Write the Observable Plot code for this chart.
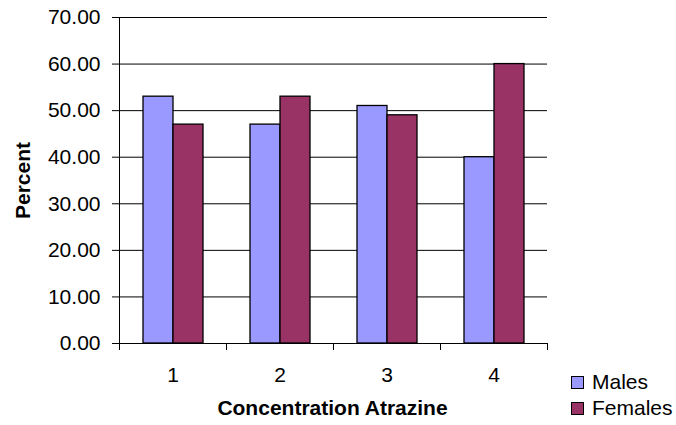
<!DOCTYPE html>
<html>
<head>
<meta charset="utf-8">
<script src="https://cdn.jsdelivr.net/npm/d3@7"></script>
<script src="https://cdn.jsdelivr.net/npm/@observablehq/plot@0.6"></script>
<style>
  body { margin: 0; background: #fff; }
  #wrap { position: relative; width: 676px; height: 425px; font-family: "Liberation Sans", Arial, sans-serif; }
  #wrap svg [aria-label="y-axis label"] text { font-weight: bold; font-size: 21px; }
  .xtitle { position: absolute; left: 117px; width: 431px; top: 396px; text-align: center; font-weight: bold; font-size: 21px; line-height: 24px; }
  .legend { position: absolute; left: 571px; top: 369px; font-size: 21px; }
  .legend .row { display: flex; align-items: center; height: 26px; }
  .legend .sw { width: 11px; height: 11px; border: 1px solid #000; margin-right: 8px; }
</style>
</head>
<body>
<div id="wrap"></div>
<script>
const categories = ["1", "2", "3", "4"];
const series = ["Males", "Females"];
const males = [53, 47, 51, 40];
const females = [47, 53, 49, 60];
const colors = ["#9999ff", "#993366"];
const yTicks = [0, 10, 20, 30, 40, 50, 60, 70];
const xTitle = "Concentration Atrazine";
const yTitle = "Percent";

const data = categories.flatMap((c, i) => [
  {cat: c, sex: series[0], value: males[i]},
  {cat: c, sex: series[1], value: females[i]}
]);

const chart = Plot.plot({
  width: 676,
  height: 425,
  marginLeft: 117,
  marginRight: 128,
  marginTop: 17,
  marginBottom: 82,
  style: {fontFamily: '"Liberation Sans", Arial, sans-serif', fontSize: "21px", color: "#000", background: "white", overflow: "visible"},
  fx: {domain: categories, padding: 0, label: null},
  x: {domain: series, paddingInner: 0, paddingOuter: 0.74, axis: null},
  y: {domain: [0, 70]},
  color: {domain: series, range: colors},
  marks: [
    Plot.gridY(yTicks.slice(1), {stroke: "#000", strokeOpacity: 1}),
    Plot.barY(data, {fx: "cat", x: "sex", y: "value", fill: "sex", stroke: "#000", strokeWidth: 1.3}),
    Plot.frame({anchor: "bottom", stroke: "#000"}),
    Plot.frame({anchor: "left", stroke: "#000", insetTop: 326, insetBottom: -6}),
    Plot.frame({anchor: "right", stroke: "#000", insetTop: 326, insetBottom: -6}),
    Plot.frame({anchor: "left", stroke: "#000", fx: [categories[0]]}),
    Plot.axisY(yTicks, {anchor: "left", tickSize: 7, tickPadding: 12, tickFormat: d3.format(".2f"),
      label: yTitle, labelAnchor: "center", labelOffset: 104, labelArrow: "none", fontSize: 21}),
    Plot.axisFx({anchor: "bottom", tickSize: 0, tickPadding: 24, label: null, fontSize: 21})
  ]
});

const wrap = document.getElementById("wrap");
wrap.appendChild(chart);

const t = document.createElement("div");
t.className = "xtitle";
t.textContent = xTitle;
wrap.appendChild(t);

const leg = document.createElement("div");
leg.className = "legend";
series.forEach((s, i) => {
  const row = document.createElement("div");
  row.className = "row";
  const sw = document.createElement("div");
  sw.className = "sw";
  sw.style.background = colors[i];
  const lab = document.createElement("span");
  lab.textContent = s;
  row.appendChild(sw);
  row.appendChild(lab);
  leg.appendChild(row);
});
wrap.appendChild(leg);
</script>
</body>
</html>
